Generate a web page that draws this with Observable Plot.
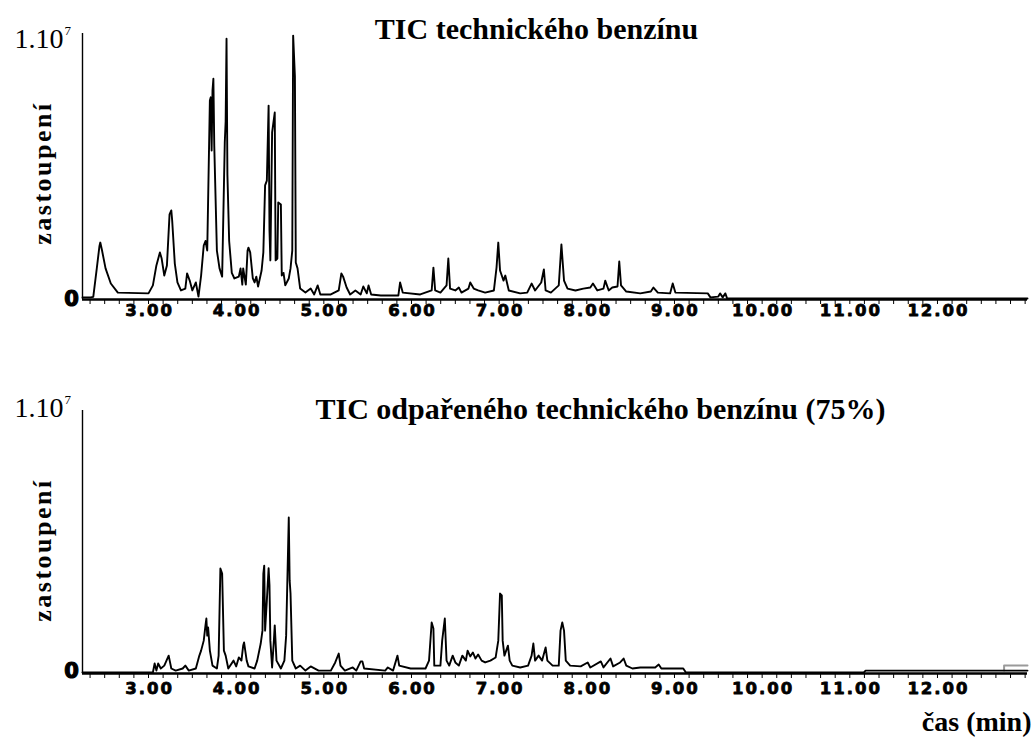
<!DOCTYPE html>
<html>
<head>
<meta charset="utf-8">
<script src="https://cdn.jsdelivr.net/npm/d3@7"></script>
<script src="https://cdn.jsdelivr.net/npm/@observablehq/plot@0.6"></script>
<style>
  html, body { margin: 0; padding: 0; background: #fff; }
  #chart svg { display: block; overflow: visible; }
  g[fill="#010101"] text { letter-spacing: 2px; }
  g[fill="#020202"] text { letter-spacing: 2.5px; }
</style>
</head>
<body>
<div id="chart"></div>
<script>
// ---- axis definitions (time in minutes, signal in units of 10^6) ----
const xDomain = [2.247, 13.027];
const yDomain = [0, 10];
const majorTicks = [3, 4, 5, 6, 7, 8, 9, 10, 11, 12];
const minorTicks = d3.range(14, 79).map(k => k / 6); // every 10 s
const titleTop = "TIC technického benzínu";
const titleBottom = "TIC odpařeného technického benzínu (75%)";
const yLabel = "zastoupení";
const xLabel = "čas (min)";

// ---- TIC of technical gasoline ----
const topTime = [2.247,2.34,2.37,2.41,2.44,2.45,2.47,2.51,2.57,2.65,
3.00,3.05,3.09,3.13,3.15,3.18,3.21,3.24,3.26,3.27,
3.30,3.33,3.37,3.42,3.44,3.47,3.50,3.54,3.57,3.60,
3.63,3.65,3.67,3.70,3.71,3.72,3.73,3.74,3.75,3.78,
3.81,3.84,3.87,3.88,3.89,3.90,3.92,3.95,3.98,4.03,
4.05,4.07,4.08,4.11,4.13,4.14,4.16,4.19,4.21,4.23,
4.25,4.29,4.31,4.33,4.35,4.37,4.38,4.39,4.41,4.44,
4.45,4.47,4.48,4.51,4.52,4.54,4.56,4.60,4.62,4.64,
4.65,4.67,4.68,4.70,4.73,4.79,4.85,4.89,4.93,4.96,
5.08,5.17,5.20,5.22,5.26,5.30,5.36,5.42,5.45,5.49,
5.51,5.54,5.65,5.85,5.87,5.90,6.10,6.23,6.25,6.27,
6.33,6.40,6.42,6.44,6.50,6.54,6.57,6.65,6.67,6.71,
6.76,6.84,6.94,6.97,6.99,7.01,7.05,7.07,7.11,7.24,
7.32,7.37,7.41,7.48,7.51,7.53,7.59,7.68,7.71,7.74,
7.78,7.87,7.96,8.04,8.07,8.12,8.19,8.21,8.25,8.29,
8.35,8.37,8.39,8.45,8.61,8.73,8.76,8.81,8.95,8.98,
9.01,9.38,9.41,9.50,9.52,9.55,9.58,9.60,13.027];
const topSignal = [0.08,0.08,0.10,1.17,2.00,2.14,1.84,1.17,0.60,0.26,
0.23,0.53,1.28,1.77,1.54,0.90,1.28,3.20,3.35,2.97,
1.35,0.64,0.34,0.41,0.98,0.71,0.34,0.64,0.11,0.90,
2.03,2.20,1.84,7.48,7.60,5.60,7.86,8.30,5.80,1.84,
1.17,0.86,5.90,6.70,9.80,4.70,2.20,1.00,0.79,0.86,
1.17,0.56,1.17,0.56,1.84,1.95,1.77,0.79,0.64,0.86,
0.49,1.09,1.77,4.29,4.47,7.29,2.60,1.47,6.28,7.03,
1.47,1.54,3.65,3.57,0.90,1.00,0.53,0.79,1.17,1.84,
9.92,8.38,1.39,1.17,0.41,0.26,0.41,0.19,0.53,0.19,
0.19,0.34,0.98,0.86,0.45,0.19,0.34,0.19,0.49,0.23,
0.53,0.19,0.15,0.15,0.64,0.26,0.19,0.34,1.20,0.34,
0.26,0.53,1.54,0.41,0.34,0.45,0.26,0.41,0.64,0.41,
0.34,0.26,0.34,1.20,2.14,1.09,0.71,0.90,0.34,0.23,
0.26,0.60,0.34,0.64,1.13,0.34,0.26,0.53,2.07,0.71,
0.41,0.34,0.41,0.45,0.60,0.34,0.41,0.71,0.34,0.45,
0.49,1.43,0.53,0.30,0.23,0.30,0.45,0.26,0.23,0.60,
0.26,0.23,0.08,0.11,0.23,0.08,0.23,0.04,0.04];

// ---- TIC of evaporated technical gasoline (75 %) ----
const bottomTime = [2.247,3.05,3.07,3.09,3.11,3.14,3.18,3.23,3.26,3.31,
3.39,3.42,3.46,3.54,3.58,3.60,3.63,3.65,3.66,3.67,
3.68,3.70,3.73,3.78,3.80,3.82,3.84,3.86,3.88,3.91,
3.97,4.00,4.03,4.06,4.08,4.09,4.12,4.14,4.21,4.24,
4.28,4.30,4.31,4.32,4.33,4.35,4.37,4.38,4.39,4.41,
4.43,4.44,4.46,4.51,4.55,4.57,4.60,4.61,4.62,4.64,
4.68,4.73,4.79,4.85,4.94,5.08,5.13,5.17,5.19,5.24,
5.33,5.37,5.42,5.44,5.46,5.70,5.73,5.79,5.84,5.86,
5.99,6.16,6.20,6.23,6.25,6.26,6.33,6.35,6.38,6.40,
6.43,6.47,6.50,6.54,6.58,6.62,6.64,6.67,6.70,6.73,
6.76,6.80,6.84,6.90,6.96,6.99,7.01,7.03,7.04,7.06,
7.10,7.12,7.15,7.24,7.33,7.37,7.39,7.41,7.45,7.49,
7.53,7.55,7.61,7.68,7.70,7.72,7.74,7.76,7.81,7.93,
8.01,8.04,8.16,8.19,8.27,8.30,8.38,8.42,8.45,8.52,
8.61,8.78,8.82,8.85,9.10,9.13,11.16,11.18,13.027];
const bottomSignal = [0.04,0.04,0.38,0.11,0.38,0.19,0.30,0.68,0.19,0.11,
0.19,0.30,0.11,0.19,0.68,0.87,1.25,1.83,2.09,1.44,
1.75,0.87,0.30,0.19,0.68,3.99,3.80,0.87,0.68,0.19,
0.49,0.27,0.61,0.49,1.06,1.18,0.49,0.27,0.19,0.49,
1.14,1.63,3.80,4.10,1.63,2.78,4.00,3.35,1.25,0.23,
1.25,1.83,0.49,0.19,0.49,1.44,5.93,3.54,3.04,0.49,
0.19,0.30,0.11,0.27,0.11,0.11,0.42,0.76,0.30,0.11,
0.23,0.11,0.46,0.46,0.19,0.11,0.23,0.11,0.68,0.30,
0.19,0.19,0.49,1.94,1.71,0.30,0.30,1.25,2.09,0.49,
0.30,0.68,0.42,0.30,0.68,0.49,0.87,0.65,0.80,0.57,
0.72,0.49,0.42,0.49,0.61,1.25,3.04,2.97,1.25,0.68,
1.06,0.49,0.30,0.23,0.30,0.68,1.14,0.49,0.68,0.49,
0.99,0.49,0.30,0.30,1.63,1.94,1.63,0.49,0.30,0.27,
0.42,0.23,0.46,0.23,0.57,0.27,0.42,0.57,0.30,0.19,
0.23,0.23,0.34,0.19,0.19,0.04,0.04,0.11,0.11];
const bottomTailTime = [12.76, 12.76, 13.027];
const bottomTailSignal = [0.11, 0.30, 0.30];

function panel(o) {
  const data = o.time.map((t, i) => ({t, v: o.signal[i]}));
  const tail = (o.tailTime || []).map((t, i) => ({t, v: o.tailSignal[i]}));
  const marks = [
    Plot.ruleY([yDomain[0]], {stroke: "black", strokeWidth: 2.5}),
    Plot.ruleX([xDomain[0]], {stroke: "black", strokeWidth: 1.4}),
    Plot.line(tail, {x: "t", y: "v", stroke: "#9a9a9a", strokeWidth: 2}),
    Plot.line(data, {x: "t", y: "v", stroke: "black", strokeWidth: 1.9}),
    // x tick labels
    Plot.text(majorTicks, {x: d => d, frameAnchor: "bottom", lineAnchor: "middle",
      text: d => d3.format(".2f")(d),
      dx: 1, dy: o.labDy, fill: "#010101", stroke: "#010101", strokeWidth: 0.8,
      fontFamily: "DejaVu Sans", fontWeight: "bold", fontSize: 16.5}),
    // y tick labels
    Plot.text([yDomain[0]], {y: d => d, frameAnchor: "left", text: () => "0",
      textAnchor: "middle", lineAnchor: "middle",
      dx: -11, dy: o.zeroDy, fill: "black", stroke: "black", strokeWidth: 1.2,
      fontFamily: "DejaVu Sans", fontWeight: "bold", fontSize: 21}),
    Plot.text([yDomain[1]], {y: d => d, frameAnchor: "left", text: () => "1.10",
      textAnchor: "end", lineAnchor: "middle", dx: -19, dy: o.oneDy, fill: "black",
      fontFamily: "Liberation Serif", fontSize: 28}),
    Plot.text([yDomain[1]], {y: d => d, frameAnchor: "left", text: () => "7",
      textAnchor: "start", lineAnchor: "middle", dx: -18, dy: o.oneDy - 9, fill: "black",
      fontFamily: "Liberation Serif", fontSize: 13}),
    // y label
    Plot.text([yLabel], {frameAnchor: "left", text: d => d, rotate: -90,
      textAnchor: "middle", lineAnchor: "middle",
      dx: -40, dy: o.yLabDy, fill: "#020202",
      fontFamily: "Liberation Serif", fontWeight: "bold", fontSize: 26}),
    // title
    Plot.text([o.title], {frameAnchor: "top", text: d => d, lineAnchor: "middle",
      dx: o.titleDx, dy: o.titleDy,
      fill: "black", fontFamily: "Liberation Serif", fontWeight: "bold", fontSize: 30})
  ];
  if (o.xLabel) {
    marks.push(Plot.text([o.xLabel], {frameAnchor: "bottom-right", text: d => d,
      textAnchor: "end", lineAnchor: "middle", dx: 4, dy: 49, fill: "black",
      fontFamily: "Liberation Serif", fontWeight: "bold", fontSize: 28}));
  }
  return Plot.plot({
    width: 1032,
    height: o.height,
    marginLeft: 82,
    marginRight: 5,
    marginTop: o.marginTop,
    marginBottom: o.marginBottom,
    style: {background: "white", overflow: "visible"},
    x: {domain: xDomain, ticks: minorTicks, tickFormat: () => "", tickSize: 5, label: null},
    y: {domain: yDomain, axis: null},
    marks
  });
}

const root = document.getElementById("chart");
root.appendChild(panel({
  time: topTime, signal: topSignal, title: titleTop,
  height: 340, marginTop: 33, marginBottom: 41,
  labDy: 11.5, zeroDy: 0, oneDy: 6, yLabDy: 6.5, titleDx: -18.5, titleDy: -4.6
}));
root.appendChild(panel({
  time: bottomTime, signal: bottomSignal, tailTime: bottomTailTime, tailSignal: bottomTailSignal,
  title: titleBottom, xLabel,
  height: 398, marginTop: 70, marginBottom: 65,
  labDy: 15.5, zeroDy: -2, oneDy: -2, yLabDy: 8, titleDx: 45.5, titleDy: -1.6
}));
</script>
</body>
</html>
